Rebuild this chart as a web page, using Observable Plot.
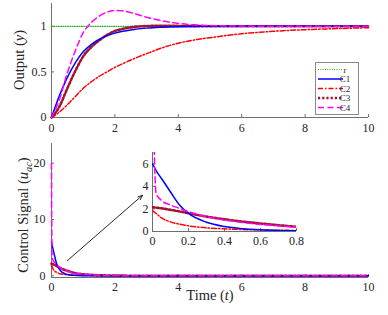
<!DOCTYPE html>
<html><head><meta charset="utf-8">
<script src="https://cdn.jsdelivr.net/npm/d3@7"></script>
<script src="https://cdn.jsdelivr.net/npm/@observablehq/plot@0.6"></script>
<style>
body{margin:0;background:#fff;}
#wrap{position:relative;width:388px;height:315px;font-family:"Liberation Serif","DejaVu Serif",serif;overflow:hidden;}
#wrap svg{position:absolute;display:block;}
#wrap svg text{font-family:"Liberation Serif","DejaVu Serif",serif;}
</style></head><body><div id="wrap"></div>
<script>
// ---------- data ----------
const seriesNames = ["r", "C1", "C2", "C3", "C4"];
const controlNames = ["C1", "C2", "C3", "C4"];

const tOut  = [0,0.25,0.5,0.75,1,1.25,1.5,1.75,2,2.25,2.5,3,3.5,4,4.5,5,6,7,8,9,10];
const rOut  = [1,1,1,1,1,1,1,1,1,1,1,1,1,1,1,1,1,1,1,1,1];
const c1Out = [0,0.24,0.44,0.6,0.72,0.8,0.855,0.895,0.925,0.945,0.96,0.98,0.99,0.996,0.999,1,1,1,1,1,1];
const c2Out = [0,0.06,0.14,0.23,0.32,0.39,0.45,0.5,0.55,0.59,0.63,0.7,0.765,0.815,0.85,0.875,0.918,0.945,0.963,0.975,0.985];
const c3Out = [0,0.12,0.32,0.51,0.67,0.77,0.845,0.905,0.948,0.972,0.988,1.003,1.006,1.004,1.002,1.001,1,1,1,1,1];
const c4Out = [0,0.2,0.49,0.73,0.93,1.04,1.11,1.155,1.175,1.17,1.15,1.1,1.06,1.032,1.016,1.008,1.002,1,1,1,1];

const tCtl = [0,0.005,0.01,0.015,0.02,0.05,0.1,0.15,0.2,0.3,0.4,0.5,0.6,0.7,0.8,1,1.25,1.5,2,3,4,6,8,10];
const u1 = [6,5.85,5.7,5.55,5.4,4.7,3.5,2.35,1.6,0.82,0.44,0.25,0.15,0.09,0.055,0.02,0.01,0,0,0,0,0,0,0];
const u2 = [1.85,1.78,1.72,1.66,1.6,1.2,0.85,0.65,0.5,0.33,0.24,0.18,0.14,0.11,0.09,0.06,0.04,0.03,0.02,0.01,0,0,0,0];
const u3 = [2.15,2.14,2.13,2.12,2.11,2.05,1.92,1.78,1.62,1.32,1.08,0.88,0.71,0.56,0.42,0.28,0.17,0.1,0.04,0.01,0,0,0,0];
const u4 = [20,12,7,4.5,3.4,2.75,2.35,2.05,1.76,1.32,1.02,0.8,0.63,0.5,0.41,0.28,0.17,0.1,0.04,0.01,0,0,0,0];

const xTicksMain = [0,2,4,6,8,10];
const yTicksOut = [0,0.5,1];
const yTicksCtl = [0,10,20];
const xTicksInset = [0,0.2,0.4,0.6,0.8];
const yTicksInset = [0,2,4,6];

// arrow annotation (data units of the lower panel)
const arrowFrom = {t: 0.5, u: 2.7};
const arrowTo   = {t: 2.87, u: 14.3};

// ---------- styles ----------
const outTable = {r: rOut, C1: c1Out, C2: c2Out, C3: c3Out, C4: c4Out};
const ctlTable = {C1: u1, C2: u2, C3: u3, C4: u4};
const style = {
  r:  {stroke: "#30b030", strokeWidth: 1.2, strokeDasharray: "1,1.3"},
  C1: {stroke: "#0000ff", strokeWidth: 1.5},
  C2: {stroke: "#ff0000", strokeWidth: 1.5, strokeDasharray: "5,2,1.5,2"},
  C3: {stroke: "#a2142f", strokeWidth: 2.6, strokeDasharray: "2.2,2"},
  C4: {stroke: "#ff00ff", strokeWidth: 1.5, strokeDasharray: "6,3.5"}
};
const axisColor = "#6e6e6e";
const textColor = "#262626";
const FONT = '"Liberation Serif", "DejaVu Serif", serif';
const fmt = d => String(d);

function tidy(t, vals) { return t.map((d, i) => ({t: d, v: vals[i]})); }
function lines(t, table, names, extra = {}) {
  return names.map(n => Plot.line(tidy(t, table[n]), {x: "t", y: "v", curve: "monotone-x", ...style[n], ...extra}));
}
function axesMarks(xTicks, yTicks, xMin, yMin, innerW, innerH, pad) {
  return [
    Plot.ruleX([xMin], {stroke: axisColor}),
    Plot.ruleY([yMin], {stroke: axisColor}),
    Plot.tickX(xTicks, {x: d => d, insetTop: innerH - 3, stroke: axisColor}),
    Plot.tickY(yTicks, {y: d => d, insetRight: innerW - 3, stroke: axisColor}),
    Plot.axisX({ticks: xTicks, tickFormat: fmt, tickSize: 0, tickPadding: pad.x, label: null, color: textColor}),
    Plot.axisY({ticks: yTicks, tickFormat: fmt, tickSize: 0, tickPadding: pad.y, label: null, color: textColor})
  ];
}
function richText(svg, x, y, parts, size, rotate = 0) {
  const t = d3.select(svg).append("text")
    .attr("transform", `translate(${x},${y}) rotate(${rotate})`)
    .attr("text-anchor", "middle").attr("dy", "0.35em")
    .attr("fill", textColor).style("font-family", FONT).attr("font-size", size);
  for (const p of parts) {
    const s = t.append("tspan").text(p.text);
    if (p.italic) s.attr("font-style", "italic");
    if (p.sub) s.attr("font-size", size * 0.72).attr("dy", size * 0.28);
    if (p.unsub) s.attr("dy", -size * 0.28);
  }
}
const plotStyle = {fontFamily: FONT, fontSize: "12px", background: "transparent", overflow: "visible"};

const wrap = document.getElementById("wrap");

// ---------- top panel ----------
{
  const W = 388, H = 140, mL = 51, mR = 20, mT = 3, mB = 23;
  const svg = Plot.plot({
    width: W, height: H, marginLeft: mL, marginRight: mR, marginTop: mT, marginBottom: mB,
    style: plotStyle,
    x: {domain: [0, 10]},
    y: {domain: [0, 1.25]},
    marks: [
      ...axesMarks(xTicksMain, yTicksOut, 0, 0, W - mL - mR, H - mT - mB, {x: 6, y: 5}),
      ...lines(tOut, outTable, ["r", "C2", "C3", "C1", "C4"])
    ]
  });
  svg.style.left = "0px"; svg.style.top = "0px";
  wrap.appendChild(svg);
  richText(svg, 19, 60, [{text: "Output ("}, {text: "y", italic: true}, {text: ")"}], 14.5, -90);

  // legend
  const lg = d3.select(svg).append("g");
  lg.append("rect").attr("x", 315.5).attr("y", 62.5).attr("width", 43).attr("height", 52)
    .attr("fill", "#fff").attr("stroke", "#8a8a8a").attr("stroke-width", 1);
  seriesNames.forEach((n, i) => {
    const yy = 69.5 + i * 9.5;
    const s = style[n];
    lg.append("line").attr("x1", 318).attr("x2", 343).attr("y1", yy).attr("y2", yy)
      .attr("stroke", s.stroke).attr("stroke-width", s.strokeWidth)
      .attr("stroke-dasharray", s.strokeDasharray || null);
    lg.append("text").attr("x", 345).attr("y", yy).attr("dy", "0.35em")
      .style("font-family", FONT).attr("font-size", 9).attr("fill", textColor).text(n);
  });
}

// ---------- bottom panel ----------
{
  const W = 388, H = 175, mL = 51, mR = 20, mT = 3, mB = 38;
  const svg = Plot.plot({
    width: W, height: H, marginLeft: mL, marginRight: mR, marginTop: mT, marginBottom: mB,
    style: plotStyle,
    x: {domain: [0, 10]},
    y: {domain: [-0.3, 23.5]},
    marks: [
      ...axesMarks(xTicksMain, yTicksCtl, 0, -0.3, W - mL - mR, H - mT - mB, {x: 5, y: 6}),
      ...lines(tCtl, ctlTable, ["C2", "C3", "C1", "C4"]),
      Plot.arrow([{x1: arrowFrom.t, y1: arrowFrom.u, x2: arrowTo.t, y2: arrowTo.u}],
        {x1: "x1", y1: "y1", x2: "x2", y2: "y2", stroke: "#111", strokeWidth: 0.9, headLength: 8, headAngle: 45})
    ]
  });
  svg.style.left = "0px"; svg.style.top = "140px";
  wrap.appendChild(svg);
  richText(svg, 23, 75, [{text: "Control Signal ("}, {text: "u", italic: true}, {text: "ac", italic: true, sub: true}, {text: ")", unsub: true}], 14.5, -90);
  richText(svg, 210, 155, [{text: "Time ("}, {text: "t", italic: true}, {text: ")"}], 14.5, 0);
}

// ---------- inset ----------
{
  const W = 174, H = 100, mL = 16, mR = 14, mT = 3, mB = 18;
  const svg = Plot.plot({
    width: W, height: H, marginLeft: mL, marginRight: mR, marginTop: mT, marginBottom: mB,
    style: plotStyle,
    x: {domain: [0, 0.8]},
    y: {domain: [0, 7]},
    marks: [
      ...axesMarks(xTicksInset, yTicksInset, 0, 0, W - mL - mR, H - mT - mB, {x: 5, y: 4}),
      ...lines(tCtl, ctlTable, ["C2", "C3", "C1", "C4"], {clip: true})
    ]
  });
  svg.style.left = "136px"; svg.style.top = "149px";
  wrap.appendChild(svg);
}
</script>
</body></html>
